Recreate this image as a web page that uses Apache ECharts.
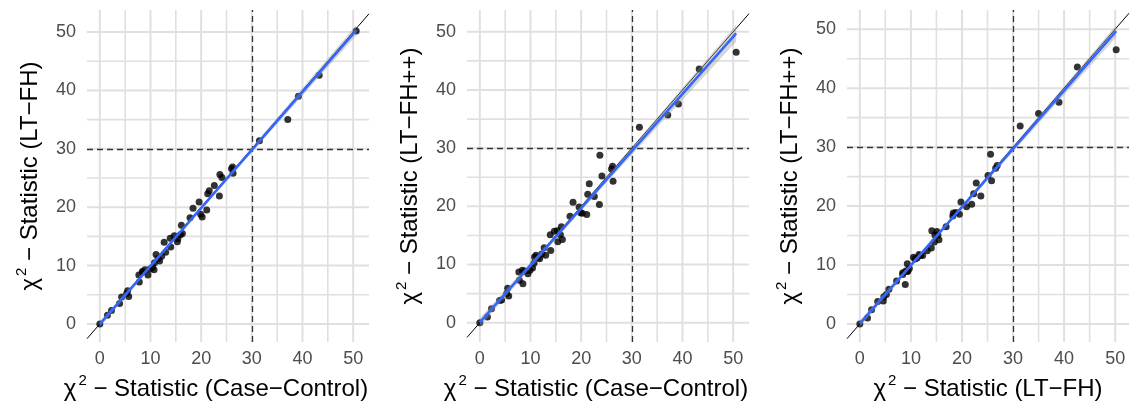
<!DOCTYPE html>
<html>
<head>
<meta charset="utf-8">
<script src="https://cdn.jsdelivr.net/npm/echarts@6/dist/echarts.min.js"></script>
<style>
  html, body { margin: 0; background: #fff; }
  #chart { width: 1131px; height: 412px; }
</style>
</head>
<body>
<div id="chart"></div>
<script>
// chi-square statistics of the same SNPs under three methods
const caseControl = [0, 1.5, 2.3, 3.9, 4.3, 5.3, 5.5, 5.7, 7.7, 7.8, 8.4, 8.5, 8.9, 9.5, 9.9, 10.4, 10.7, 10.8, 11.1, 11.5, 11.8, 12.2, 12.7, 13.0, 13.9, 14.0, 14.7, 15.3, 15.4, 15.9, 16.1, 16.3, 17.8, 18.4, 19.6, 19.9, 20.2, 21.1, 21.3, 21.6, 22.6, 23.6, 23.7, 24.1, 26.0, 26.2, 26.3, 31.5, 37.1, 39.2, 43.3, 50.6];
const ltfh = [0, 1.5, 2.3, 3.5, 4.6, 5.2, 5.7, 4.7, 8.4, 7.2, 9.0, 8.9, 9.3, 8.4, 9.4, 9.7, 9.3, 10.5, 11.9, 11.2, 10.8, 11.6, 14.0, 12.3, 14.7, 13.2, 15.1, 14.1, 14.6, 15.3, 16.9, 15.5, 18.2, 19.8, 20.9, 18.8, 18.3, 19.5, 22.3, 22.8, 23.7, 21.9, 25.6, 25.1, 26.6, 26.9, 25.8, 31.4, 35.0, 39.0, 42.6, 50.2];
const ltfhpp = [0, 1.0, 2.4, 3.8, 3.9, 5.0, 5.9, 4.6, 8.7, 7.3, 9.0, 6.7, 8.9, 8.4, 9.0, 9.4, 10.2, 11.3, 11.6, 11.2, 11.0, 11.8, 12.9, 11.6, 15.1, 12.4, 15.7, 15.8, 13.9, 15.1, 16.5, 14.3, 18.3, 20.7, 19.9, 18.9, 18.8, 18.6, 22.1, 23.9, 21.7, 20.3, 28.8, 25.2, 26.4, 26.9, 24.3, 33.6, 35.7, 37.6, 43.6, 46.5];

const tickValues = [0, 10, 20, 30, 40, 50];
const majorGrid = [0, 10, 20, 30, 40, 50];
const minorGrid = [5, 15, 25, 35, 45];
const threshold = 30;

const panels = [
  { x: caseControl, y: ltfh, xName: 'Case−Control', yName: 'LT−FH', left: 87, shift: 24 },
  { x: caseControl, y: ltfhpp, xName: 'Case−Control', yName: 'LT−FH++', left: 467, shift: 24 },
  { x: ltfh, y: ltfhpp, xName: 'LT−FH', yName: 'LT−FH++', left: 847, shift: 0 }
];

const FONT = '"Liberation Sans", Arial, sans-serif';
const GRID_COLOR = '#e0e0e0';

// lm(y ~ x) with 95% confidence band, like geom_smooth(method = "lm")
function fit(xs, ys) {
  const n = xs.length;
  const mx = xs.reduce((a, b) => a + b, 0) / n;
  const my = ys.reduce((a, b) => a + b, 0) / n;
  let sxx = 0, sxy = 0;
  for (let i = 0; i < n; i++) {
    sxx += (xs[i] - mx) * (xs[i] - mx);
    sxy += (xs[i] - mx) * (ys[i] - my);
  }
  const b = sxy / sxx, a = my - b * mx;
  let rss = 0;
  for (let i = 0; i < n; i++) rss += Math.pow(ys[i] - a - b * xs[i], 2);
  const s = Math.sqrt(rss / (n - 2));
  const t = 2.0086;
  const x0 = Math.min(...xs), x1 = Math.max(...xs);
  const band = [];
  for (let k = 0; k <= 80; k++) {
    const x = x0 + (x1 - x0) * k / 80;
    const yh = a + b * x;
    const se = s * Math.sqrt(1 / n + (x - mx) * (x - mx) / sxx);
    band.push([x, yh - t * se, yh + t * se]);
  }
  return { a, b, x0, x1, band };
}

function axisName(label) {
  return '{c|χ}{s|2}{t| − Statistic (' + label + ')}';
}
const rich = {
  c: { fontSize: 24, fontFamily: FONT, color: '#000', lineHeight: 32 },
  s: { fontSize: 15, fontFamily: FONT, color: '#000', verticalAlign: 'top', lineHeight: 15, padding: [0, 0, 0, 2] },
  t: { fontSize: 24, fontFamily: FONT, color: '#000', lineHeight: 32 }
};

const grids = [], xAxes = [], yAxes = [], series = [];

panels.forEach((p, i) => {
  const f = fit(p.x, p.y);
  const xmin = Math.min(...p.x), xmax = Math.max(...p.x);
  const ymin = Math.min(...p.y, ...f.band.map(d => d[1]));
  const ymax = Math.max(...p.y, ...f.band.map(d => d[2]));
  const ex = (xmax - xmin) * 0.05, ey = (ymax - ymin) * 0.05;
  const xr = [xmin - ex, xmax + ex], yr = [ymin - ey, ymax + ey];

  grids.push({ left: p.left, top: 10, width: 282, height: 332 });

  xAxes.push({
    gridIndex: i, type: 'value', min: xr[0], max: xr[1],
    axisLine: { show: false }, axisTick: { show: false }, splitLine: { show: false },
    axisLabel: { customValues: tickValues, color: '#4d4d4d', fontSize: 18, fontFamily: FONT, margin: 8 },
    name: axisName(p.xName), nameLocation: 'middle', nameGap: 31,
    nameTextStyle: { fontSize: 24, fontFamily: FONT, color: '#000', rich: rich, padding: [0, p.shift, 0, 0] }
  });
  yAxes.push({
    gridIndex: i, type: 'value', min: yr[0], max: yr[1],
    axisLine: { show: false }, axisTick: { show: false }, splitLine: { show: false },
    axisLabel: { customValues: tickValues, color: '#4d4d4d', fontSize: 18, fontFamily: FONT, margin: 11 },
    name: axisName(p.yName), nameLocation: 'middle', nameGap: 41, nameRotate: 90,
    nameTextStyle: { fontSize: 24, fontFamily: FONT, color: '#000', rich: rich }
  });

  // panel grid lines: plain line series spanning the panel
  const gridLine = (pts, w) => ({
    type: 'line', xAxisIndex: i, yAxisIndex: i, z: 1, showSymbol: false, silent: true,
    lineStyle: { color: GRID_COLOR, width: w }, data: pts
  });
  minorGrid.forEach(v => {
    series.push(gridLine([[v, yr[0]], [v, yr[1]]], 1.6));
    series.push(gridLine([[xr[0], v], [xr[1], v]], 1.6));
  });
  majorGrid.forEach(v => {
    series.push(gridLine([[v, yr[0]], [v, yr[1]]], 2));
    series.push(gridLine([[xr[0], v], [xr[1], v]], 2));
  });

  series.push({
    type: 'scatter', xAxisIndex: i, yAxisIndex: i, data: [], silent: true,
    markLine: {
      silent: true, symbol: 'none', z: 2, animation: false, label: { show: false },
      lineStyle: { color: '#333', type: [6, 4], width: 1.3 },
      data: [{ xAxis: threshold }, { yAxis: threshold }]
    }
  });
  series.push({
    type: 'scatter', xAxisIndex: i, yAxisIndex: i, z: 3,
    symbolSize: 7, itemStyle: { color: '#000' },
    data: p.x.map((v, k) => [v, p.y[k]])
  });
  // y = x reference line across the panel
  const lo = Math.max(xr[0], yr[0]), hi = Math.min(xr[1], yr[1]);
  series.push({
    type: 'line', xAxisIndex: i, yAxisIndex: i, z: 4, showSymbol: false, silent: true,
    lineStyle: { color: '#000', width: 1 },
    data: [[lo, lo], [hi, hi]]
  });
  series.push({
    type: 'custom', xAxisIndex: i, yAxisIndex: i, z: 5, silent: true,
    data: [[f.x0, f.a]],
    renderItem: function (params, api) {
      const pts = f.band.map(d => api.coord([d[0], d[2]]))
        .concat(f.band.slice().reverse().map(d => api.coord([d[0], d[1]])));
      return { type: 'polygon', shape: { points: pts }, style: { fill: 'rgba(153,153,153,0.4)' } };
    }
  });
  series.push({
    type: 'line', xAxisIndex: i, yAxisIndex: i, z: 6, showSymbol: false, silent: true,
    lineStyle: { color: '#3366FF', width: 2.5 },
    data: [[f.x0, f.a + f.b * f.x0], [f.x1, f.a + f.b * f.x1]]
  });
});

const chart = echarts.init(document.getElementById('chart'));
chart.setOption({
  animation: false,
  grid: grids,
  xAxis: xAxes,
  yAxis: yAxes,
  series: series
});
</script>
</body>
</html>
